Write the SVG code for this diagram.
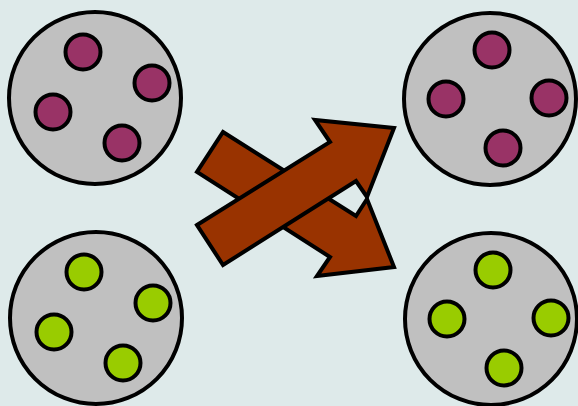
<svg xmlns="http://www.w3.org/2000/svg" width="578" height="406" viewBox="0 0 578 406">
<style>
.big{fill:#c0c0c0;stroke:#000;stroke-width:4}
.p{fill:#993366;stroke:#000;stroke-width:4}
.g{fill:#99cc00;stroke:#000;stroke-width:4}
.arr{fill:#993300;stroke:#000;stroke-width:4;stroke-linejoin:miter}
</style>
<rect width="578" height="406" fill="#deeaea"/>
<g id="set-top-left">
<circle class="big" cx="95" cy="98" r="86"/>
<circle class="p" cx="83" cy="52" r="17.5"/>
<circle class="p" cx="152" cy="83" r="17.5"/>
<circle class="p" cx="53" cy="112" r="17.5"/>
<circle class="p" cx="122" cy="143" r="17.5"/>
</g>
<g id="set-bottom-left">
<circle class="big" cx="96" cy="318" r="86"/>
<circle class="g" cx="84" cy="272" r="17.5"/>
<circle class="g" cx="153" cy="303" r="17.5"/>
<circle class="g" cx="54" cy="332" r="17.5"/>
<circle class="g" cx="123" cy="363" r="17.5"/>
</g>
<g id="set-top-right">
<circle class="big" cx="490" cy="99" r="86"/>
<circle class="p" cx="492" cy="50" r="17.5"/>
<circle class="p" cx="446" cy="99" r="17.5"/>
<circle class="p" cx="549" cy="98" r="17.5"/>
<circle class="p" cx="503" cy="148" r="17.5"/>
</g>
<g id="set-bottom-right">
<circle class="big" cx="491" cy="319" r="86"/>
<circle class="g" cx="493" cy="270" r="17.5"/>
<circle class="g" cx="447" cy="319" r="17.5"/>
<circle class="g" cx="551" cy="318" r="17.5"/>
<circle class="g" cx="504" cy="368" r="17.5"/>
</g>
<g id="connectors">
<polygon class="arr" points="223,132 356,216 367,199 394,267 317,276 330,257 197,172"/>
<polygon class="arr" points="197,225 330,142 315,120 394,128 367,197 356,181 223,265"/>
</g>
</svg>
